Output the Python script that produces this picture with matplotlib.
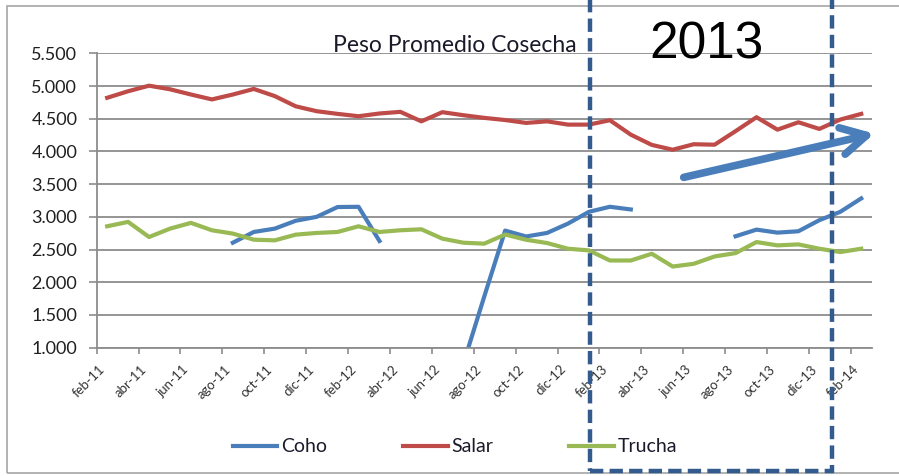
import numpy as np
import matplotlib
matplotlib.use('Agg')
import matplotlib.pyplot as plt
from matplotlib.patches import Rectangle, FancyArrowPatch

nan = np.nan

# meses (feb-11 .. feb-14)
months = ['feb-11', 'mar-11', 'abr-11', 'may-11', 'jun-11', 'jul-11', 'ago-11', 'sep-11',
          'oct-11', 'nov-11', 'dic-11', 'ene-12', 'feb-12', 'mar-12', 'abr-12', 'may-12',
          'jun-12', 'jul-12', 'ago-12', 'sep-12', 'oct-12', 'nov-12', 'dic-12', 'ene-13',
          'feb-13', 'mar-13', 'abr-13', 'may-13', 'jun-13', 'jul-13', 'ago-13', 'sep-13',
          'oct-13', 'nov-13', 'dic-13', 'ene-14', 'feb-14']

coho = [nan, nan, nan, nan, nan, nan, 2605, 2769, 2820, 2940, 3000, 3150, 3154, 2631,
        nan, nan, nan, 750, 1780, 2790, 2700, 2754, 2897, 3077, 3154, 3113,
        nan, nan, nan, nan, 2703, 2805, 2759, 2780, 2949, 3077, 3282]
salar = [4820, 4920, 5005, 4950, 4870, 4795, 4870, 4955, 4846, 4690, 4615, 4574, 4538,
         4580, 4605, 4460, 4600, 4554, 4513, 4480, 4436, 4460, 4410, 4410, 4477, 4256,
         4100, 4026, 4110, 4103, 4310, 4523, 4333, 4446, 4344, 4487, 4574]
trucha = [2856, 2923, 2692, 2820, 2908, 2795, 2744, 2651, 2641, 2728, 2754, 2769, 2856,
          2769, 2795, 2810, 2667, 2605, 2590, 2730, 2650, 2600, 2513, 2487, 2333, 2333,
          2436, 2241, 2282, 2395, 2446, 2615, 2564, 2579, 2513, 2462, 2513]

yticks = [1000, 1500, 2000, 2500, 3000, 3500, 4000, 4500, 5000, 5500]

W, H = 899, 476
plt.rcParams['font.family'] = ['Lato', 'DejaVu Sans']

fig = plt.figure(figsize=(W / 100, H / 100), dpi=100)
fig.patch.set_facecolor('white')

ax = fig.add_axes([96.7 / W, (H - 347.7) / H, (871.7 - 96.7) / W, (347.7 - 53.3) / H])
x = np.arange(len(months))

ax.plot(x, coho, color='#4a7ebb', lw=3, solid_joinstyle='round', label='Coho')
ax.plot(x, salar, color='#be4b48', lw=3, solid_joinstyle='round', label='Salar')
ax.plot(x, trucha, color='#98b954', lw=3, solid_joinstyle='round', label='Trucha')

ax.set_xlim(-0.5, len(months) - 0.5)
ax.set_ylim(1000, 5500)

gcol = '#8c8c8c'
ax.set_yticks(yticks)
ax.set_yticklabels([f'{v:,}'.replace(',', '.') for v in yticks])
ax.yaxis.grid(True, color=gcol, lw=1.3)
ax.set_axisbelow(True)
ax.tick_params(axis='y', length=6, width=1.2, color=gcol, pad=8,
               labelsize=13, labelcolor='#1f1f1f')

ax.set_xticks(x[::2])
ax.set_xticklabels(months[::2], rotation=45, ha='right')
ax.set_xticks(np.arange(-0.5, len(months) - 1, 2), minor=True)
ax.tick_params(axis='x', which='major', length=0, pad=11, labelsize=9.5, labelcolor='#333333')
ax.tick_params(axis='x', which='minor', length=4, width=1.2, color=gcol)

for s in ['top', 'right']:
    ax.spines[s].set_visible(False)
for s in ['left', 'bottom']:
    ax.spines[s].set_color(gcol)
    ax.spines[s].set_linewidth(1.3)

# titulo
fig.text(455 / W, (H - 52) / H, 'Peso Promedio Cosecha', ha='center', va='baseline',
         fontsize=16.5, color='#1a1a2a')

# leyenda
fig.legend(loc='center', bbox_to_anchor=(455 / W, 29 / H), ncol=3, frameon=False,
           handlelength=2.3, handletextpad=0.2, columnspacing=3.9, fontsize=14,
           labelcolor='#1a1a2a')

# borde del grafico
fig.patches.append(Rectangle((7 / W, 3 / H), 1.2, 467 / H, transform=fig.transFigure,
                             fill=False, edgecolor='#a6a6a6', lw=1.2, clip_on=False))

# recuadro 2013
fig.patches.append(Rectangle((590 / W, 5 / H), (832 - 590) / W, 1.1, transform=fig.transFigure,
                             fill=False, edgecolor='#335b8e', lw=3.2,
                             linestyle=(0, (3, 1.4)), clip_on=False))
fig.text(706 / W, (H - 45) / H, '2013', ha='center', va='center', fontsize=37,
         family='Liberation Sans', color='black')

# flecha
arrow = FancyArrowPatch((681 / W, (H - 178) / H), (877 / W, (H - 133) / H),
                        transform=fig.transFigure,
                        arrowstyle='->,head_length=1.2,head_width=0.65', mutation_scale=15,
                        color='#4a7ebb', lw=5.5)
fig.patches.append(arrow)

fig.savefig('out.png', dpi=100)
